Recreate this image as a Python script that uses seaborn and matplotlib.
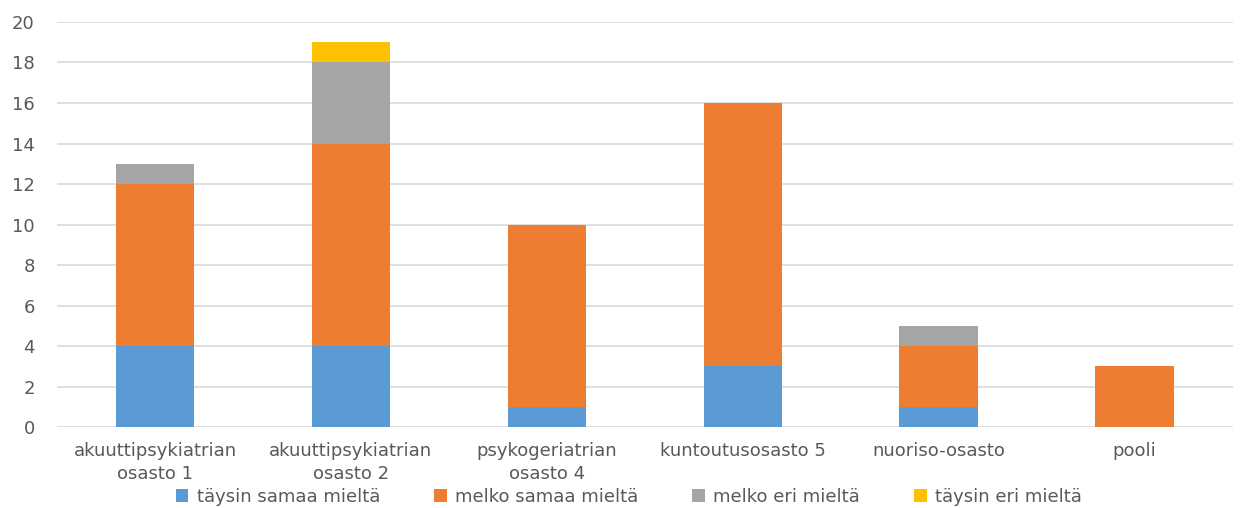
import matplotlib
matplotlib.use("Agg")
import matplotlib.pyplot as plt
from matplotlib.patches import Patch
import numpy as np
import pandas as pd
import seaborn as sns

categories = [
    "akuuttipsykiatrian\nosasto 1",
    "akuuttipsykiatrian\nosasto 2",
    "psykogeriatrian\nosasto 4",
    "kuntoutusosasto 5",
    "nuoriso-osasto",
    "pooli",
]
series_names = ["täysin samaa mieltä", "melko samaa mieltä", "melko eri mieltä", "täysin eri mieltä"]
taysin_samaa = [4, 4, 1, 3, 1, 0]
melko_samaa = [8, 10, 9, 13, 3, 3]
melko_eri = [1, 4, 0, 0, 1, 0]
taysin_eri = [0, 1, 0, 0, 0, 0]
colors = ["#5b9bd5", "#ed7d31", "#a5a5a5", "#ffc000"]

sns.set_theme(style="white")
plt.rcParams["font.family"] = ["DejaVu Sans"]

values = np.array([taysin_samaa, melko_samaa, melko_eri, taysin_eri], dtype=float)
cumulative = values.cumsum(axis=0)

fig = plt.figure(figsize=(12.4, 5.08), dpi=100)
ax = fig.add_axes([0.046, 0.1594, 0.948, 0.7973])

# Stacked bars: draw cumulative totals from the top series down
for i in range(len(series_names) - 1, -1, -1):
    df = pd.DataFrame({"osasto": categories, "arvo": cumulative[i]})
    sns.barplot(data=df, x="osasto", y="arvo", color=colors[i], width=0.4,
                saturation=1, errorbar=None, linewidth=0, ax=ax, zorder=2)

ax.set_ylim(0, 20)
ax.set_yticks(range(0, 21, 2))
ax.set_xlim(-0.5, len(categories) - 0.5)
ax.set_xlabel("")
ax.set_ylabel("")
ax.yaxis.grid(True, color="#d9d9d9", linewidth=1.2, zorder=0)
ax.set_axisbelow(True)
for s in ax.spines.values():
    s.set_visible(False)
ax.tick_params(axis="both", length=0, labelsize=13, labelcolor="#595959")
ax.tick_params(axis="y", pad=16)
ax.tick_params(axis="x", pad=11)
for lbl in ax.get_xticklabels():
    lbl.set_linespacing(1.35)

handles = [Patch(facecolor=c, edgecolor="none") for c in colors]
fig.legend(handles, series_names, loc="center", bbox_to_anchor=(0.507, 0.022),
           ncol=4, frameon=False, fontsize=13, handlelength=0.7, handleheight=0.7,
           handletextpad=0.45, columnspacing=3.0, labelcolor="#595959")

fig.savefig("out.png", dpi=100)
